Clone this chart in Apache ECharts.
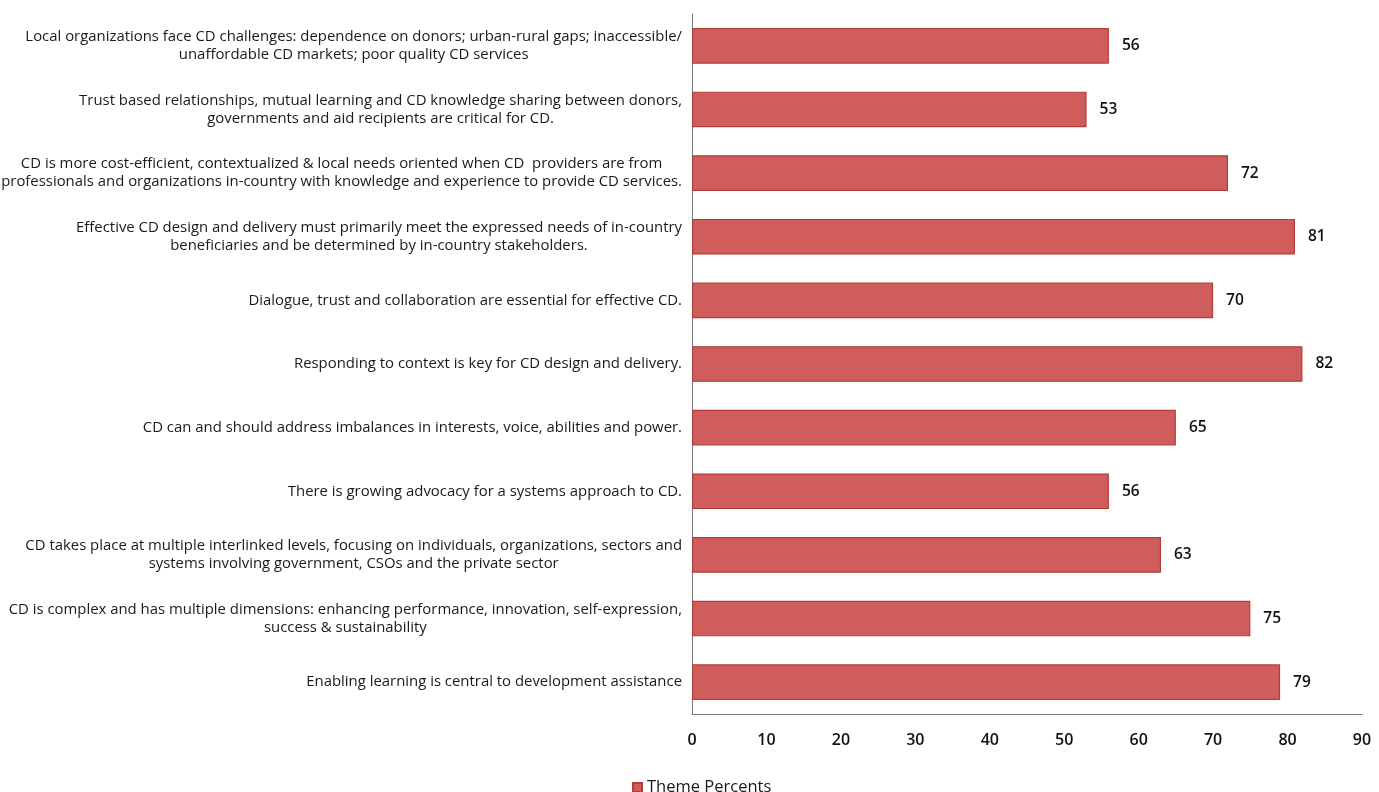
<!DOCTYPE html>
<html>
<head>
<meta charset="utf-8">
<script src="https://cdn.jsdelivr.net/npm/echarts@6/dist/echarts.min.js"></script>
<style>
  html, body { margin: 0; padding: 0; background: #ffffff; }
  #chart { width: 1379px; height: 792px; }
</style>
</head>
<body>
<div id="chart"></div>
<script>
// Themes, listed top to bottom as shown on the chart
const categories = [
  "Local organizations face CD challenges: dependence on donors; urban-rural gaps; inaccessible/\nunaffordable CD markets; poor quality CD services",
  "Trust based relationships, mutual learning and CD knowledge sharing between donors,\ngovernments and aid recipients are critical for CD.",
  "CD is more cost-efficient, contextualized & local needs oriented when CD  providers are from\nprofessionals and organizations in-country with knowledge and experience to provide CD services.",
  "Effective CD design and delivery must primarily meet the expressed needs of in-country\nbeneficiaries and be determined by in-country stakeholders.",
  "Dialogue, trust and collaboration are essential for effective CD.",
  "Responding to context is key for CD design and delivery.",
  "CD can and should address imbalances in interests, voice, abilities and power.",
  "There is growing advocacy for a systems approach to CD.",
  "CD takes place at multiple interlinked levels, focusing on individuals, organizations, sectors and\nsystems involving government, CSOs and the private sector",
  "CD is complex and has multiple dimensions: enhancing performance, innovation, self-expression,\nsuccess & sustainability",
  "Enabling learning is central to development assistance"
];
const themePercents = [56, 53, 72, 81, 70, 82, 65, 56, 63, 75, 79];
const seriesName = "Theme Percents";

const FONT = "'Open Sans', 'Noto Sans', sans-serif";

const chart = echarts.init(document.getElementById('chart'), null, { renderer: 'canvas' });

chart.setOption({
  backgroundColor: '#ffffff',
  animation: false,
  grid: { left: 692, right: 17, top: 14, bottom: 78, containLabel: false, outerBoundsMode: 'none' },
  legend: {
    data: [seriesName],
    left: 627,
    top: 774,
    itemWidth: 9,
    itemHeight: 9,
    itemGap: 4,
    icon: 'rect',
    textStyle: { fontFamily: FONT, fontSize: 16.5, color: '#1a1a1a' }
  },
  xAxis: {
    type: 'value',
    min: 0,
    max: 90,
    interval: 10,
    axisLine: { show: true, lineStyle: { color: '#777', width: 1 } },
    axisTick: { show: false },
    splitLine: { show: false },
    axisLabel: { margin: 18, fontFamily: FONT, fontSize: 16, fontWeight: 600, color: '#111' }
  },
  yAxis: {
    type: 'category',
    data: categories,
    inverse: true,
    axisLine: { show: true, lineStyle: { color: '#777', width: 1 } },
    axisTick: { show: false },
    axisLabel: {
      margin: 10,
      align: 'right',
      lineHeight: 18,
      formatter: function (v) {
        return v.split('\n').map(function (l) { return '{c|' + l + '}'; }).join('\n');
      },
      rich: {
        c: { align: 'center', fontFamily: FONT, fontSize: 14.9, color: '#1a1a1a', lineHeight: 18 }
      }
    }
  },
  series: [{
    name: seriesName,
    type: 'bar',
    data: themePercents,
    barCategoryGap: '44%',
    itemStyle: { color: '#cf5d5b', borderColor: '#b63c3a', borderWidth: 1.2 },
    label: {
      show: true,
      position: 'right',
      distance: 13,
      fontFamily: FONT,
      fontSize: 15.5,
      fontWeight: 600,
      color: '#111'
    }
  }]
});
</script>
</body>
</html>
